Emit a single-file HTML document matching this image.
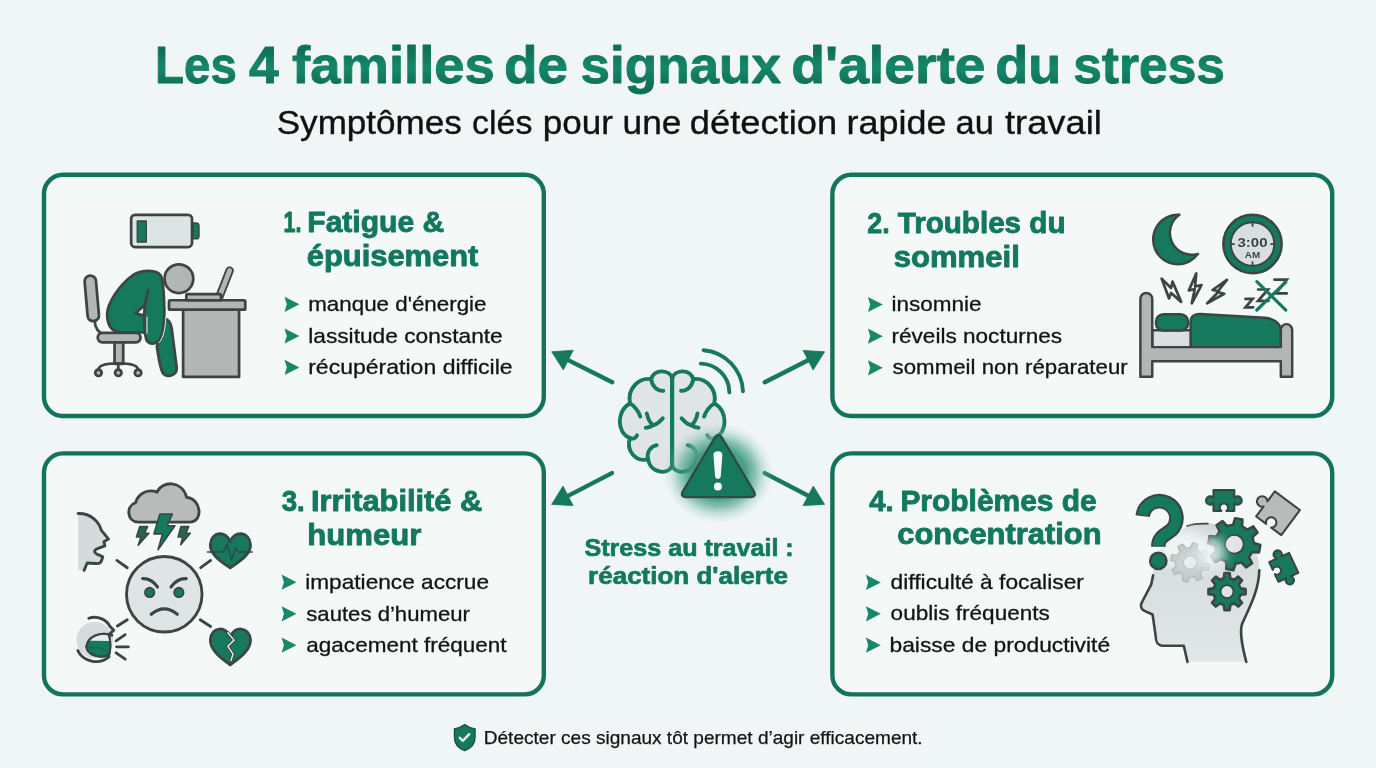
<!DOCTYPE html>
<html lang="fr">
<head>
<meta charset="utf-8">
<title>Les 4 familles de signaux d'alerte du stress</title>
<style>
html,body{margin:0;padding:0;background:#f0f6f5;}
body{width:1376px;height:768px;overflow:hidden;position:relative;font-family:"Liberation Sans",sans-serif;}
svg{position:absolute;left:0;top:0;display:block;will-change:transform;}
text{font-family:"Liberation Sans",sans-serif;}
.h{font-weight:700;fill:#12785e;stroke:#12785e;stroke-linejoin:round;}
.t{fill:url(#tg);stroke:url(#tg);}
.s{font-weight:400;fill:#111;stroke:#111;}
.b{font-weight:400;fill:#141414;stroke:#141414;}
</style>
</head>
<body>
<svg width="1376" height="768" viewBox="0 0 1376 768">
<defs>
<linearGradient id="tg" x1="0" y1="0" x2="0" y2="1"><stop offset="0" stop-color="#0f7058"/><stop offset="0.25" stop-color="#0f7058"/><stop offset="0.55" stop-color="#15886a"/><stop offset="0.85" stop-color="#0f7058"/><stop offset="1" stop-color="#0f7058"/></linearGradient>
<path id="arw" d="M0.3 -7.6 L15.2 0 L0.3 7.6 L2.6 0 Z" fill="#17886a"/>
</defs>
<rect width="1376" height="768" fill="#f0f6f5"/>
<g fill="#f4f9f8" stroke="#11745b" stroke-width="4.4">
<rect x="44" y="174.8" width="499.8" height="241.2" rx="19" ry="19"/>
<rect x="832.4" y="174.8" width="499.8" height="241.2" rx="19" ry="19"/>
<rect x="44" y="453.4" width="499.8" height="241" rx="19" ry="19"/>
<rect x="832.4" y="453.4" width="499.8" height="241" rx="19" ry="19"/>
</g>
<g id="arrows"><path d="M612.3 382.3 L568.2 360.1" stroke="#16795d" stroke-width="4.4" stroke-linecap="round" fill="none"/><path d="M551.7 351.8 L573.2 350.3 L563.3 369.9 Z" fill="#16795d" stroke="#16795d" stroke-width="0.8" stroke-linejoin="round"/><path d="M764.8 382.3 L808.1 360.2" stroke="#16795d" stroke-width="4.4" stroke-linecap="round" fill="none"/><path d="M824.6 351.8 L813.1 370.0 L803.1 350.4 Z" fill="#16795d" stroke="#16795d" stroke-width="0.8" stroke-linejoin="round"/><path d="M611.9 473.1 L568.0 495.9" stroke="#16795d" stroke-width="4.4" stroke-linecap="round" fill="none"/><path d="M551.6 504.4 L563.0 486.1 L573.1 505.6 Z" fill="#16795d" stroke="#16795d" stroke-width="0.8" stroke-linejoin="round"/><path d="M764.8 473.1 L808.2 495.8" stroke="#16795d" stroke-width="4.4" stroke-linecap="round" fill="none"/><path d="M824.6 504.4 L803.1 505.6 L813.3 486.1 Z" fill="#16795d" stroke="#16795d" stroke-width="0.8" stroke-linejoin="round"/></g>
<g id="center" transform="translate(600,335) scale(0.234375)">
<defs>
<radialGradient id="glow" cx="0.5" cy="0.5" r="0.5"><stop offset="0" stop-color="#1a8467" stop-opacity="0.9"/><stop offset="0.5" stop-color="#23896c" stop-opacity="0.8"/><stop offset="0.68" stop-color="#3d9c81" stop-opacity="0.55"/><stop offset="0.84" stop-color="#6fb8a3" stop-opacity="0.25"/><stop offset="1" stop-color="#9fd0c0" stop-opacity="0"/></radialGradient>
<radialGradient id="wfade" cx="0.5" cy="0.5" r="0.5"><stop offset="0" stop-color="#f0f6f5" stop-opacity="1"/><stop offset="0.6" stop-color="#f0f6f5" stop-opacity="0.85"/><stop offset="1" stop-color="#f0f6f5" stop-opacity="0"/></radialGradient>
</defs>
<g stroke="#16795d" stroke-width="16.5" stroke-linecap="round" stroke-linejoin="round">
<g><path d="M308 185 C300 150 235 140 218 188 C165 180 115 230 128 292 C70 320 70 420 128 440 C110 490 150 545 205 530 C215 590 290 600 308 558 Z" fill="#dfe5e5"/>
<path d="M218 188 C222 220 245 240 270 238 M128 292 C146 300 165 328 172 348 M200 335 C205 360 215 376 228 385 M268 355 C256 370 242 380 228 385 C215 392 206 395 195 396 M128 440 C140 445 152 440 158 428 M205 530 C198 500 215 476 242 470" fill="none"/></g>
<g transform="translate(616,0) scale(-1,1)"><path d="M308 185 C300 150 235 140 218 188 C165 180 115 230 128 292 C70 320 70 420 128 440 C110 490 150 545 205 530 C215 590 290 600 308 558 Z" fill="#dfe5e5"/>
<path d="M218 188 C222 220 245 240 270 238 M128 292 C146 300 165 328 172 348 M200 335 C205 360 215 376 228 385 M268 355 C256 370 242 380 228 385 C215 392 206 395 195 396 M128 440 C140 445 152 440 158 428 M205 530 C198 500 215 476 242 470" fill="none"/></g>
<path d="M308 185 V558" fill="none"/>
<path d="M442 65 A183 183 0 0 1 610 240 M430 122 A124 124 0 0 1 552 245" fill="none"/>
</g>
<ellipse cx="500" cy="560" rx="150" ry="150" fill="url(#wfade)"/>
<ellipse cx="505" cy="590" rx="235" ry="215" fill="url(#glow)"/>
<path d="M490 438 Q505 414 520 438 L657 668 Q668 690 645 692 L365 692 Q342 690 353 668 Z" fill="#16795d" stroke="#2d4c44" stroke-width="10" stroke-linejoin="round"/>
<path d="M484 512 Q484 496 503 496 Q522 496 522 512 L515 604 Q514 614 503 614 Q492 614 491 604 Z" fill="#f4f9f9"/>
<circle cx="503" cy="646" r="17" fill="#f4f9f9"/>
</g>

<g id="ill1" transform="translate(70,200) scale(0.24752)" stroke="#3d4443" stroke-width="11" stroke-linejoin="round" stroke-linecap="round">
<!-- battery -->
<rect x="247" y="60" width="246" height="130" rx="16" fill="#dde4e4"/>
<path d="M497 93 h12 a12 12 0 0 1 12 12 v40 a12 12 0 0 1 -12 12 h-12 z" fill="#16795d" stroke-width="6"/>
<rect x="272" y="85" width="36" height="85" fill="#16795d" stroke-width="6"/>
<!-- chair -->
<g fill="#b4b5b5">
<rect x="65" y="305" width="46" height="185" rx="23" transform="rotate(-5 88 397)"/>
<path d="M100 488 Q100 532 142 545" fill="none"/>
<rect x="180" y="572" width="35" height="90"/>
<rect x="112" y="537" width="173" height="38" rx="19"/>
<path d="M115 686 Q115 660 195 660 Q275 660 275 686 M195 660 V686" fill="none"/>
<circle cx="115" cy="698" r="13"/><circle cx="195" cy="698" r="13"/><circle cx="275" cy="698" r="13"/>
</g>
<!-- desk -->
<g fill="#b4b5b5">
<rect x="457" y="440" width="226" height="275"/>
<rect x="400" y="405" width="308" height="38" rx="5"/>
<path d="M603 392 L645 285" stroke-width="34" fill="none"/>
<path d="M603 392 L645 285" stroke="#b4b5b5" stroke-width="19" fill="none"/>
<rect x="470" y="380" width="140" height="25" rx="5"/>
</g>
<!-- person -->
<path d="M384 479 C400 484 408 500 411 520 L431 677 C434 706 398 720 378 703 C364 688 356 625 351 591 C360 570 370 550 374 538 Z" fill="#15795c" stroke="#eaf4f1" stroke-width="16"/>
<path d="M384 479 C400 484 408 500 411 520 L431 677 C434 706 398 720 378 703 C364 688 356 625 351 591 C360 570 370 550 374 538 Z" fill="#15795c"/>
<path d="M150 460 C152 420 195 345 256 302 C296 280 348 282 366 304 C380 322 379 400 381 440 C382 500 376 550 356 572 C340 586 314 582 308 562 L302 535 L200 535 C165 530 150 500 150 460 Z" fill="#15795c"/>
<path d="M304 470 L304 536 M380 470 C378 520 370 556 352 574" fill="none" stroke="#eaf4f1" stroke-width="4" transform="translate(7,3)"/>
<path d="M264 457 L303 424 L299 467 Z" fill="#f4f9f9"/>
<path d="M316 364 L303 424 M299 467 L302 536" fill="none"/>
<circle cx="440" cy="318" r="58" fill="#b4b5b5"/>
</g>

<g id="ill2" transform="translate(1130,200) scale(0.24725)" stroke="#3a4644" stroke-width="10" stroke-linejoin="round" stroke-linecap="round">
<!-- moon -->
<path d="M200 60 A100 100 0 1 0 275 218 A88.5 88.5 0 0 1 200 60 Z" fill="#16795d"/>
<!-- clock -->
<circle cx="495.5" cy="178" r="118" fill="#16795d"/>
<circle cx="495.5" cy="178" r="88" fill="#d9dfdf" stroke-width="8"/>
<path d="M495.5 92 v13 M495.5 251 v13 M410 178 h11 M570 178 h11" fill="none" stroke-width="7"/>
<text x="495.5" y="191" font-size="54" font-weight="700" text-anchor="middle" fill="#3a4644" stroke="none" textLength="122" lengthAdjust="spacingAndGlyphs">3:00</text>
<text x="495.5" y="236" font-size="36" font-weight="700" text-anchor="middle" fill="#3a4644" stroke="none" textLength="62" lengthAdjust="spacingAndGlyphs">AM</text>
<!-- bolts -->
<g fill="#f4f9f9" stroke-width="11">
<path d="M128 318 L166 356 L172 330 L207 412 L166 376 L158 398 Z"/>
<path d="M268 297 L238 366 L262 360 L250 418 L289 344 L263 350 Z"/>
<path d="M392 323 L334 364 L360 369 L312 418 L381 379 L353 372 Z"/>
</g>
<!-- zzz -->
<g fill="none" stroke-width="11" stroke-linejoin="miter">
<path d="M467 400 H496 L467 434 H498"/>
<path d="M518 362 H558 L518 408 H560"/>
<path d="M584 322 H634 L590 378 H634"/>
</g>
<path d="M513 330 L630 445 M630 332 L513 445" stroke="#16795d" stroke-width="13" fill="none"/>
<!-- bed -->
<g fill="#b4b5b5">
<path d="M245 598 V492 C245 470 262 460 285 461 L545 476 C585 480 610 500 610 530 V598 Z" fill="#16795d"/>
<rect x="90" y="527" width="155" height="70" fill="#dcdfdf"/>
<rect x="105" y="462" width="130" height="66" rx="30" fill="#16795d"/>
<path d="M42 715 V400 a24 24 0 0 1 48 0 V595 H610 V525 a23 23 0 0 1 46 0 V715 H610 V652 H90 V715 Z"/>
</g>
</g>

<g id="ill3" transform="translate(70,475) scale(0.26042)" stroke="#3a4644" stroke-width="11" stroke-linejoin="round" stroke-linecap="round">
<!-- dashes -->
<path d="M180 328 L220 356 M502 356 L540 328 M182 580 L220 556 M500 556 L540 582" fill="none"/>
<!-- angry face -->
<circle cx="362" cy="458" r="145" fill="#dfe5e5"/>
<circle cx="306" cy="451" r="18" fill="#16795d" stroke-width="7"/>
<circle cx="418" cy="451" r="18" fill="#16795d" stroke-width="7"/>
<path d="M279 398 Q312 396 336 430 M446 398 Q412 396 388 430 M312 535 Q362 494 412 535" fill="none" stroke-width="12"/>
<!-- cloud -->
<path d="M262 181 C220 181 212 120 252 106 C262 70 300 52 334 66 C352 22 430 18 448 86 C500 88 516 176 462 181 Z" fill="#b9baba"/>
<g fill="#16795d" stroke-width="6">
<path d="M345 150 L393 150 L373 195 L403 195 L338 287 L355 226 L322 226 Z"/>
<path fill="#2a6450" d="M268 198 L298 198 L286 224 L303 224 L262 270 L272 238 L255 238 Z"/>
<path fill="#2a6450" d="M426 198 L456 198 L445 224 L462 224 L425 268 L433 238 L415 238 Z"/>
</g>
<!-- heart pulse -->
<path d="M615 256 C600 212 543 216 539 266 C537 308 585 335 615 357 C645 335 695 308 693 266 C688 216 630 212 615 256 Z" fill="#16795d"/>
<path d="M528 296 H588 L603 264 L620 326 L636 280 L648 296 H700" fill="none" stroke="#2c4a42" stroke-width="5.5"/>
<!-- broken heart -->
<path d="M615 622 C600 578 543 582 539 632 C537 674 585 706 615 729 C645 706 695 674 693 632 C688 582 630 578 615 622 Z" fill="#16795d"/>
<path d="M606 606 L630 634 L606 658 L626 688 L618 712" fill="none" stroke="#3a4644" stroke-width="13" stroke-linejoin="miter"/>
<path d="M606 606 L630 634 L606 658 L626 688 L618 712" fill="none" stroke="#e6f0ee" stroke-width="5.5" stroke-linejoin="miter"/>
<!-- face profile top-left -->
<path d="M31 148 C80 146 112 180 120 212 L148 246 L130 256 L134 272 L108 282 C92 288 90 296 104 304 L126 314 L120 332 C116 340 108 341 100 340 L66 338 L54 366 L31 366 Z" fill="#d3dbdb" stroke="none"/>
<path d="M31 148 C80 146 112 180 120 212 L148 246 L130 256 L134 272 L108 282 C92 288 90 296 104 304 L126 314 L120 332 C116 340 108 341 100 340 L66 338 L54 366" fill="none"/>
<!-- shouting head bottom-left -->
<circle cx="95" cy="634" r="70" fill="#d5dcdc" stroke="none"/>
<path d="M72 550 C106 538 140 556 154 582 L168 596 L151 611 L161 615" fill="none"/>
<path d="M30 674 C48 716 112 732 150 698" fill="none"/>
<path d="M150 612 C120 604 70 616 63 658 C66 690 110 706 150 692 C157 666 155 636 150 612 Z" fill="#16795d" stroke-width="8"/>
<path d="M146 616 C122 610 90 614 76 636 L151 637 Z" fill="#e6ecec" stroke="none"/>
<path d="M72 662 L120 664 L142 684" fill="none" stroke="#2f5b4d" stroke-width="5"/>
<path d="M150 612 C120 604 70 616 63 658 C66 690 110 706 150 692 C157 666 155 636 150 612 Z" fill="none" stroke-width="8"/>
<path d="M177 637 L212 613 M179 660 H224 M177 683 L212 707" fill="none"/>
</g>

<g id="ill4" transform="translate(1125,475) scale(0.26027)" stroke="#3a4644" stroke-width="10" stroke-linejoin="round" stroke-linecap="round">
<defs>
<filter id="fog" x="-50%" y="-50%" width="200%" height="200%"><feGaussianBlur stdDeviation="22"/></filter>
<filter id="soft" x="-20%" y="-20%" width="140%" height="140%"><feGaussianBlur stdDeviation="3"/></filter>
<linearGradient id="hd" x1="0" y1="0" x2="0" y2="1"><stop offset="0" stop-color="#d0d8d8"/><stop offset="1" stop-color="#e2e8e8"/></linearGradient>
</defs>
<!-- head -->
<path d="M108 385 C110 290 185 192 300 186 C430 180 522 270 516 372 C512 450 472 520 450 572 L466 718 L240 718 L226 656 L142 656 C122 652 118 640 118 620 L106 536 L73 521 C60 515 58 500 66 487 L101 420 Z" fill="url(#hd)" stroke="none"/>
<path d="M108 385 L101 420 L66 487 C58 500 60 515 73 521 L106 536 L118 620 C118 640 122 652 142 656 L226 656 L240 718" fill="none"/>
<path d="M516 366 C514 450 472 520 450 572 C440 600 445 640 466 718" fill="none"/>
<path d="M238 196 C262 188 290 186 318 187" fill="none" stroke-width="7"/>
<!-- faint gear -->
<ellipse cx="225" cy="285" rx="95" ry="75" fill="#f4f8f8" stroke="none" filter="url(#fog)" opacity="0.85"/>
<g filter="url(#soft)" opacity="0.9"><path d="M307.0 337.5 L325.4 345.1 L319.9 365.8 L300.1 363.2 L289.2 377.3 L296.9 395.8 L278.3 406.5 L266.2 390.7 L248.5 393.0 L240.9 411.4 L220.2 405.9 L222.8 386.1 L208.7 375.2 L190.2 382.9 L179.5 364.3 L195.3 352.2 L193.0 334.5 L174.6 326.9 L180.1 306.2 L199.9 308.8 L210.8 294.7 L203.1 276.2 L221.7 265.5 L233.8 281.3 L251.5 279.0 L259.1 260.6 L279.8 266.1 L277.2 285.9 L291.3 296.8 L309.8 289.1 L320.5 307.7 L304.7 319.8 Z" fill="#bcc6c3" stroke="#aab5b2" stroke-width="5"/><circle cx="250" cy="336" r="26" fill="#e3e9e8" stroke="#aab5b2" stroke-width="5"/></g>
<!-- big gear -->
<path d="M494.9 261.4 L519.9 269.3 L515.1 297.1 L488.8 295.9 L476.2 315.7 L488.3 339.0 L465.2 355.2 L447.5 335.8 L424.6 340.9 L416.7 365.9 L388.9 361.1 L390.1 334.8 L370.3 322.2 L347.0 334.3 L330.8 311.2 L350.2 293.5 L345.1 270.6 L320.1 262.7 L324.9 234.9 L351.2 236.1 L363.8 216.3 L351.7 193.0 L374.8 176.8 L392.5 196.2 L415.4 191.1 L423.3 166.1 L451.1 170.9 L449.9 197.2 L469.7 209.8 L493.0 197.7 L509.2 220.8 L489.8 238.5 Z" fill="#16795d"/>
<circle cx="420" cy="266" r="36" fill="#dfe5e5" stroke-width="7"/>
<!-- small gear -->
<path d="M443.5 435.6 L463.3 437.9 L463.3 458.1 L443.5 460.4 L437.2 475.7 L449.6 491.2 L435.2 505.6 L419.7 493.2 L404.4 499.5 L402.1 519.3 L381.9 519.3 L379.6 499.5 L364.3 493.2 L348.8 505.6 L334.4 491.2 L346.8 475.7 L340.5 460.4 L320.7 458.1 L320.7 437.9 L340.5 435.6 L346.8 420.3 L334.4 404.8 L348.8 390.4 L364.3 402.8 L379.6 396.5 L381.9 376.7 L402.1 376.7 L404.4 396.5 L419.7 402.8 L435.2 390.4 L449.6 404.8 L437.2 420.3 Z" fill="#16795d"/>
<circle cx="392" cy="448" r="25" fill="#dfe5e5" stroke-width="7"/>
<!-- fog -->
<ellipse cx="330" cy="300" rx="55" ry="60" fill="#f2f6f6" stroke="none" filter="url(#fog)" opacity="0.85"/>
<ellipse cx="250" cy="336" rx="50" ry="45" fill="#f2f6f6" stroke="none" filter="url(#fog)" opacity="0.35"/>
<!-- question mark -->
<path d="M68 158 A65 65 0 1 1 178 212 C148 234 128 240 128 276" fill="none" stroke-width="56" stroke-linecap="butt"/>
<path d="M68 154 A65 65 0 1 1 178 212 C148 234 128 240 128 272" fill="none" stroke="#16795d" stroke-width="40" stroke-linecap="butt"/>
<circle cx="128" cy="330" r="31" fill="#16795d"/>
<!-- puzzle pieces -->
<g transform="translate(380,98)"><path d="M-40.0 -40.0 L40.0 -40.0 L40.0 -9.6 A16.0 16.0 0 1 1 40.0 9.6 L40.0 40.0 L9.6 40.0 A16.0 16.0 0 1 0 -9.6 40.0 L-40.0 40.0 L-40.0 9.6 A16.0 16.0 0 1 1 -40.0 -9.6 L-40.0 -40.0 Z" fill="#16795d" stroke-width="8"/></g>
<g transform="translate(588,147) rotate(36.6)"><path d="M-60.0 -60.0 L60.0 -60.0 L60.0 60.0 L12.0 60.0 A20.0 20.0 0 1 0 -12.0 60.0 L-60.0 60.0 L-60.0 12.0 A20.0 20.0 0 1 1 -60.0 -12.0 L-60.0 -60.0 Z" fill="#b9baba" stroke-width="8"/></g>
<g transform="translate(610,355) rotate(-25)"><path d="M-42.0 -42.0 L-9.6 -42.0 A16.0 16.0 0 1 1 9.6 -42.0 L42.0 -42.0 L42.0 42.0 L9.6 42.0 A16.0 16.0 0 1 1 -9.6 42.0 L-42.0 42.0 L-42.0 9.6 A16.0 16.0 0 1 0 -42.0 -9.6 L-42.0 -42.0 Z" fill="#16795d" stroke-width="8"/></g>
</g>

<g id="shield">
<path d="M464.7 724.6 Q460 728.2 454.4 728.9 L454.4 737 C454.4 744 459 748.6 464.7 750.6 C470.4 748.6 475.1 744 475.1 737 L475.1 728.9 Q469.5 728.2 464.7 724.6 Z" fill="#16795d" stroke="#1c4d3f" stroke-width="1.3" stroke-linejoin="round"/>
<path d="M459.8 737.7 L462.8 740.9 L469.2 734.1" fill="none" stroke="#dff7f0" stroke-width="2.3" stroke-linecap="round" stroke-linejoin="round"/>
</g>

<text class="h t" y="82.7" font-size="52" style="stroke-width:0.9"><tspan x="155.07" textLength="81.69" lengthAdjust="spacingAndGlyphs">Les</tspan> <tspan x="248.90" textLength="29.72" lengthAdjust="spacingAndGlyphs">4</tspan> <tspan x="292.10" textLength="202.71" lengthAdjust="spacingAndGlyphs">familles</tspan> <tspan x="504.09" textLength="64.08" lengthAdjust="spacingAndGlyphs">de</tspan> <tspan x="580.58" textLength="200.34" lengthAdjust="spacingAndGlyphs">signaux</tspan> <tspan x="791.28" textLength="194.30" lengthAdjust="spacingAndGlyphs">d'alerte</tspan> <tspan x="995.23" textLength="65.84" lengthAdjust="spacingAndGlyphs">du</tspan> <tspan x="1073.21" textLength="151.69" lengthAdjust="spacingAndGlyphs">stress</tspan></text>
<text class="s" y="133.7" font-size="33" style="stroke-width:0.35"><tspan x="276.74" textLength="185.09" lengthAdjust="spacingAndGlyphs">Symptômes</tspan> <tspan x="472.07" textLength="60.34" lengthAdjust="spacingAndGlyphs">clés</tspan> <tspan x="542.87" textLength="70.21" lengthAdjust="spacingAndGlyphs">pour</tspan> <tspan x="622.56" textLength="58.89" lengthAdjust="spacingAndGlyphs">une</tspan> <tspan x="689.80" textLength="147.29" lengthAdjust="spacingAndGlyphs">détection</tspan> <tspan x="846.62" textLength="99.85" lengthAdjust="spacingAndGlyphs">rapide</tspan> <tspan x="955.55" textLength="38.36" lengthAdjust="spacingAndGlyphs">au</tspan> <tspan x="1005.00" textLength="96.76" lengthAdjust="spacingAndGlyphs">travail</tspan></text>
<text class="h" y="232.4" font-size="30" style="stroke-width:0.9"><tspan x="283.48" textLength="17.98" lengthAdjust="spacingAndGlyphs">1.</tspan> <tspan x="307.30" textLength="136.87" lengthAdjust="spacingAndGlyphs">Fatigue &amp;</tspan></text>
<text class="h" y="266.4" font-size="30" style="stroke-width:0.9"><tspan x="306.77" textLength="171.62" lengthAdjust="spacingAndGlyphs">épuisement</tspan></text>
<text class="h" y="232.6" font-size="30" style="stroke-width:0.9"><tspan x="867.31" textLength="22.39" lengthAdjust="spacingAndGlyphs">2.</tspan> <tspan x="897.70" textLength="167.81" lengthAdjust="spacingAndGlyphs">Troubles du</tspan></text>
<text class="h" y="266.8" font-size="30" style="stroke-width:0.9"><tspan x="893.66" textLength="126.12" lengthAdjust="spacingAndGlyphs">sommeil</tspan></text>
<text class="h" y="510.5" font-size="30" style="stroke-width:0.9"><tspan x="281.70" textLength="23.13" lengthAdjust="spacingAndGlyphs">3.</tspan> <tspan x="311.05" textLength="171.24" lengthAdjust="spacingAndGlyphs">Irritabilité &amp;</tspan></text>
<text class="h" y="544.5" font-size="30" style="stroke-width:0.9"><tspan x="307.22" textLength="114.14" lengthAdjust="spacingAndGlyphs">humeur</tspan></text>
<text class="h" y="510.6" font-size="30" style="stroke-width:0.9"><tspan x="869.20" textLength="24.40" lengthAdjust="spacingAndGlyphs">4.</tspan> <tspan x="900.40" textLength="196.38" lengthAdjust="spacingAndGlyphs">Problèmes de</tspan></text>
<text class="h" y="544.2" font-size="30" style="stroke-width:0.9"><tspan x="897.27" textLength="204.29" lengthAdjust="spacingAndGlyphs">concentration</tspan></text>
<text class="h" y="556.4" font-size="24.5" style="stroke-width:0.7"><tspan x="584.50" textLength="209.21" lengthAdjust="spacingAndGlyphs">Stress au travail :</tspan></text>
<text class="h" y="584.3" font-size="24.5" style="stroke-width:0.7"><tspan x="588.14" textLength="199.72" lengthAdjust="spacingAndGlyphs">réaction d'alerte</tspan></text>
<text class="b" y="311.1" font-size="21" style="stroke-width:0.3"><tspan x="308.24" textLength="178.29" lengthAdjust="spacingAndGlyphs">manque d'énergie</tspan></text>
<text class="b" y="342.6" font-size="21" style="stroke-width:0.3"><tspan x="308.22" textLength="194.52" lengthAdjust="spacingAndGlyphs">lassitude constante</tspan></text>
<text class="b" y="373.8" font-size="21" style="stroke-width:0.3"><tspan x="308.20" textLength="204.44" lengthAdjust="spacingAndGlyphs">récupération difficile</tspan></text>
<text class="b" y="311.4" font-size="21" style="stroke-width:0.3"><tspan x="891.53" textLength="90.00" lengthAdjust="spacingAndGlyphs">insomnie</tspan></text>
<text class="b" y="342.6" font-size="21" style="stroke-width:0.3"><tspan x="891.53" textLength="170.61" lengthAdjust="spacingAndGlyphs">réveils nocturnes</tspan></text>
<text class="b" y="374.3" font-size="21" style="stroke-width:0.3"><tspan x="892.60" textLength="235.09" lengthAdjust="spacingAndGlyphs">sommeil non réparateur</tspan></text>
<text class="b" y="588.9" font-size="21" style="stroke-width:0.3"><tspan x="305.22" textLength="183.81" lengthAdjust="spacingAndGlyphs">impatience accrue</tspan></text>
<text class="b" y="620.5" font-size="21" style="stroke-width:0.3"><tspan x="306.30" textLength="163.59" lengthAdjust="spacingAndGlyphs">sautes d’humeur</tspan></text>
<text class="b" y="651.6" font-size="21" style="stroke-width:0.3"><tspan x="306.30" textLength="200.32" lengthAdjust="spacingAndGlyphs">agacement fréquent</tspan></text>
<text class="b" y="589.1" font-size="21" style="stroke-width:0.3"><tspan x="890.60" textLength="193.29" lengthAdjust="spacingAndGlyphs">difficulté à focaliser</tspan></text>
<text class="b" y="620.4" font-size="21" style="stroke-width:0.3"><tspan x="890.60" textLength="159.24" lengthAdjust="spacingAndGlyphs">oublis fréquents</tspan></text>
<text class="b" y="651.6" font-size="21" style="stroke-width:0.3"><tspan x="889.51" textLength="220.62" lengthAdjust="spacingAndGlyphs">baisse de productivité</tspan></text>
<text class="b" y="744.3" font-size="18.5" style="stroke-width:0.25"><tspan x="483.77" textLength="438.90" lengthAdjust="spacingAndGlyphs">Détecter ces signaux tôt permet d’agir efficacement.</tspan></text>
<use href="#arw" x="284.2" y="304.3"/><use href="#arw" x="284.2" y="336"/><use href="#arw" x="284.2" y="367.4"/><use href="#arw" x="867.6" y="304.5"/><use href="#arw" x="867.6" y="336.2"/><use href="#arw" x="867.6" y="367.8"/><use href="#arw" x="281.3" y="582.2"/><use href="#arw" x="281.3" y="613.8"/><use href="#arw" x="281.3" y="645.2"/><use href="#arw" x="865.6" y="582.4"/><use href="#arw" x="865.6" y="613.8"/><use href="#arw" x="865.6" y="645.2"/>
</svg>
</body>
</html>
